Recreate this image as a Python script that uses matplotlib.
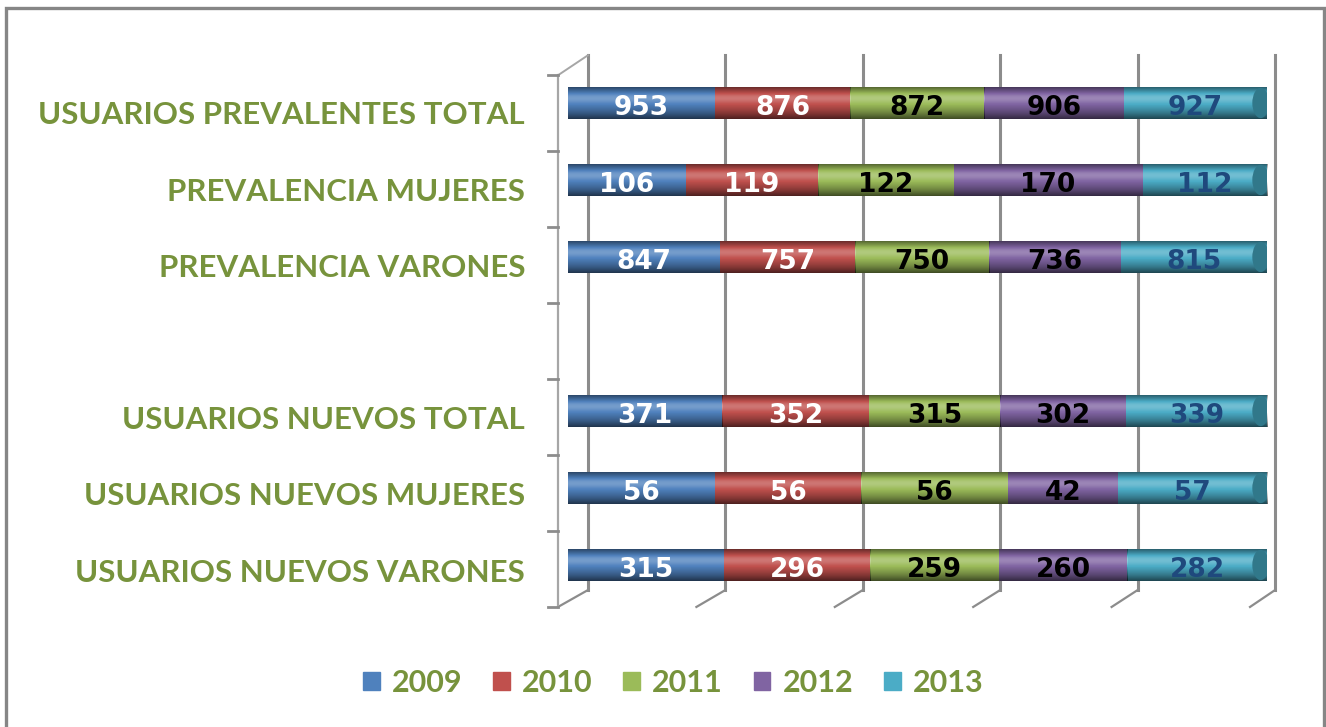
import numpy as np
import matplotlib
matplotlib.use('Agg')
import matplotlib.pyplot as plt
from matplotlib.patches import Rectangle, Ellipse

plt.rcParams['font.family'] = ['Lato', 'DejaVu Sans']

#------------------------------ Data ------------------------------#
categories = ['USUARIOS NUEVOS VARONES', 'USUARIOS NUEVOS MUJERES', 'USUARIOS NUEVOS TOTAL',
              '', 'PREVALENCIA VARONES', 'PREVALENCIA MUJERES', 'USUARIOS PREVALENTES TOTAL']
years = ['2009', '2010', '2011', '2012', '2013']

v2009 = [315, 56, 371, 0, 847, 106, 953]
v2010 = [296, 56, 352, 0, 757, 119, 876]
v2011 = [259, 56, 315, 0, 750, 122, 872]
v2012 = [260, 42, 302, 0, 736, 170, 906]
v2013 = [282, 57, 339, 0, 815, 112, 927]

colors = ['#4F81BD', '#C0504D', '#9BBB59', '#8064A2', '#4BACC6']
text_colors = ['white', 'white', 'black', 'black', '#1F497D']
cap_color = '#31788A'
label_green = '#77933C'
grid_gray = '#8C8C8C'

#------------------------------ Layout ------------------------------#
W, H = 1326, 727
fig = plt.figure(figsize=(W / 100, H / 100), dpi=100)
ax = fig.add_axes([568 / W, 0.1593, 699 / W, 0.7732])
ax.set_xlim(0, 1)
ax.set_ylim(-0.6, 6.7)
ax.axis('off')

# figure border
fig.patches.append(Rectangle((6 / W, -0.01), 1318 / W, 1.01 - 8 / H, transform=fig.transFigure,
                             fill=False, edgecolor='#868686', linewidth=2.4))

# pseudo 3D grid: back wall lines + slanted floor segments
back_x0, back_dx = 0.0286, 0.1966
front_x0, front_dx = -0.0143, 0.198
back_top, back_bot, front_bot, front_top = 6.62, -0.325, -0.545, 6.36
for k in range(6):
    bx = back_x0 + back_dx * k
    fx = front_x0 + front_dx * k
    ax.plot([bx, bx], [back_bot, back_top], color=grid_gray, lw=2.2, zorder=1, clip_on=False)
    ax.plot([bx, fx], [back_bot, front_bot], color=grid_gray, lw=1.6, zorder=1, clip_on=False)

# front left axis with ticks
ax.plot([front_x0, front_x0], [front_bot, front_top], color='#A6A6A6', lw=1.6, zorder=1, clip_on=False)
ax.plot([front_x0, back_x0], [front_top, back_top], color='#A6A6A6', lw=1.4, zorder=1, clip_on=False)
for k in range(8):
    ty = front_bot + (front_top - front_bot) * k / 7
    ax.plot([front_x0 - 0.014, front_x0], [ty, ty], color=grid_gray, lw=2, zorder=1, clip_on=False)

#------------------------------ Bars ------------------------------#
series = [v2009, v2010, v2011, v2012, v2013]
vals = np.array(series, dtype=float)
totals = vals.sum(axis=0)
frac = np.divide(vals, totals, out=np.zeros_like(vals), where=totals > 0)
y = np.arange(len(categories))
bar_h = 0.41

# vertical shading for cylinder look (top of image = top of bar)
t = np.linspace(0, 1, 64)
shade = (-0.22 * np.exp(-((t - 0.35) / 0.14) ** 2)
         + 0.6 * np.clip((t - 0.45) / 0.55, 0, None) ** 1.6
         + 0.45 * np.clip((0.28 - t) / 0.28, 0, None) ** 1.5)
grad = np.zeros((64, 1, 4))
grad[:, 0, :3] = np.where(shade[:, None] < 0, 1.0, 0.0)
grad[:, 0, 3] = np.abs(shade)

# rounded left ends
for j in range(len(categories)):
    if totals[j] > 0:
        ax.add_patch(Ellipse((0, y[j]), 0.02, bar_h, facecolor=colors[0], edgecolor='none', zorder=2))

left = np.zeros(len(categories))
for i, yr in enumerate(years):
    bars = ax.barh(y, frac[i], left=left, height=bar_h, color=colors[i], zorder=3, label=yr)
    for j, b in enumerate(bars):
        if b.get_width() <= 0:
            continue
        im = ax.imshow(grad, extent=(b.get_x(), b.get_x() + b.get_width(),
                                     b.get_y(), b.get_y() + b.get_height()),
                       aspect='auto', zorder=4, interpolation='bilinear')
        im.set_clip_path(b)
        ax.text(b.get_x() + b.get_width() / 2, b.get_y() + b.get_height() / 2 - 0.06,
                f'{int(series[i][j])}', ha='center', va='center', fontsize=19,
                fontweight='bold', color=text_colors[i], family='DejaVu Sans', zorder=6)
    left += frac[i]

# end caps (inside the right end of each bar)
for j in range(len(categories)):
    if totals[j] <= 0:
        continue
    ax.add_patch(Ellipse((left[j] - 0.009, y[j]), 0.024, bar_h * 0.96, facecolor=cap_color,
                         edgecolor='none', zorder=5))

# category labels, centred on the floor slots
for j, cat in enumerate(categories):
    if cat:
        ax.text(-0.0615, j * 0.99 - 0.1, cat, ha='right', va='center', fontsize=22.5,
                fontweight='bold', color=label_green, clip_on=False)

#------------------------------ Legend ------------------------------#
handles = [Rectangle((0, 0), 1, 1, color=c) for c in colors]
leg = fig.legend(handles, years, loc='center', bbox_to_anchor=(0.5076, 0.0605), ncol=5,
                 frameon=False, handlelength=0.55, handleheight=0.55, handletextpad=0.4,
                 columnspacing=1.0, prop={'size': 22, 'weight': 'bold'})
for txt in leg.get_texts():
    txt.set_color(label_green)

fig.savefig('out.png', dpi=100)
